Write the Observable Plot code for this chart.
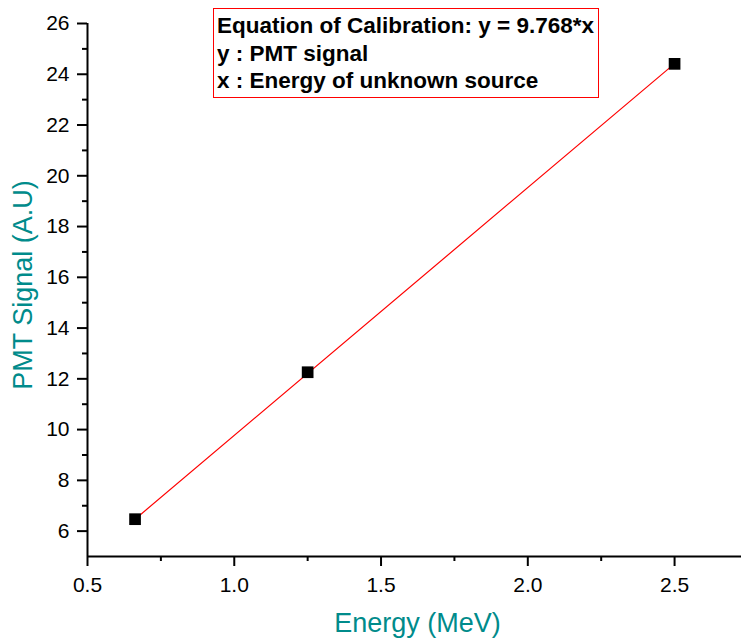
<!DOCTYPE html>
<html>
<head>
<meta charset="utf-8">
<script src="https://cdn.jsdelivr.net/npm/d3@7"></script>
<script src="https://cdn.jsdelivr.net/npm/@observablehq/plot@0.6"></script>
<style>
  html, body { margin: 0; padding: 0; background: #fff; }
  #wrap { position: relative; width: 743px; height: 639px; font-family: "Liberation Sans", Arial, sans-serif; }
  #legend {
    position: absolute; left: 213px; top: 8px; width: 386px; height: 90px;
    border: 1px solid #ff0000; box-sizing: border-box;
    font-weight: bold; font-size: 22.5px; line-height: 27.5px; color: #000;
    padding: 3px 0 0 3px; white-space: nowrap;
  }
</style>
</head>
<body>
<div id="wrap">
  <div id="chart"></div>
  <div id="legend"></div>
</div>
<script>
// Data
const energy = [0.662, 1.25, 2.5];          // MeV
const signal = [6.47, 12.26, 24.41];        // PMT signal (A.U)
const fitX = [0.662, 2.5];                  // fit line y = 9.768*x endpoints
const fitY = [6.47, 24.42];
const xTicks = [0.5, 1.0, 1.5, 2.0, 2.5];
const xMinorTicks = [0.75, 1.25, 1.75, 2.25];
const yTicks = [6, 8, 10, 12, 14, 16, 18, 20, 22, 24, 26];
const yMinorTicks = [7, 9, 11, 13, 15, 17, 19, 21, 23, 25];
const legendLines = [
  "Equation of Calibration: y = 9.768*x",
  "y : PMT signal",
  "x : Energy of unknown source"
];
const xLabel = "Energy (MeV)";
const yLabel = "PMT Signal (A.U)";

const points = energy.map((e, i) => ({x: e, y: signal[i]}));
const fit = fitX.map((e, i) => ({x: e, y: fitY[i]}));

const teal = "#008B8B";
const font = "Liberation Sans, Arial, sans-serif";

const chart = Plot.plot({
  width: 743,
  height: 639,
  marginLeft: 87,
  marginRight: 2,
  marginTop: 23,
  marginBottom: 83,
  style: {fontFamily: font, fontSize: "21px", color: "#000", background: "#fff"},
  x: {domain: [0.5, 2.728], range: [87, 741]},
  y: {domain: [5, 26]},
  marks: [
    Plot.axisX({ticks: xTicks, tickSize: 10, tickPadding: 11, tickFormat: d3.format(".1f"), strokeWidth: 2, fontSize: 21, label: null}),
    Plot.axisX({ticks: xMinorTicks, tickSize: 5, tickFormat: () => "", strokeWidth: 2, label: null}),
    Plot.axisY({ticks: yTicks, tickSize: 10, tickPadding: 8, tickFormat: d3.format("d"), strokeWidth: 2, fontSize: 21, label: null}),
    Plot.axisY({ticks: yMinorTicks, tickSize: 5, tickFormat: () => "", strokeWidth: 2, label: null}),
    Plot.ruleY([5], {stroke: "#000", strokeWidth: 2}),
    Plot.ruleX([0.5], {stroke: "#000", strokeWidth: 2}),
    Plot.line(fit, {x: "x", y: "y", stroke: "#ff0000", strokeWidth: 1.2}),
    Plot.dot(points, {x: "x", y: "y", symbol: "square", r: 6.6, fill: "#000", stroke: "none"}),
    Plot.text([xLabel], {frameAnchor: "bottom", lineAnchor: "middle", textAnchor: "middle", dx: 3, dy: 67, fill: teal, fontSize: 27, text: d => d}),
    Plot.text([yLabel], {frameAnchor: "left", lineAnchor: "middle", textAnchor: "middle", dx: -64, dy: -5, rotate: -90, fill: teal, fontSize: 27, text: d => d})
  ]
});
document.getElementById("chart").appendChild(chart);

const legend = document.getElementById("legend");
legendLines.forEach(t => {
  const d = document.createElement("div");
  d.textContent = t;
  legend.appendChild(d);
});
</script>
</body>
</html>
